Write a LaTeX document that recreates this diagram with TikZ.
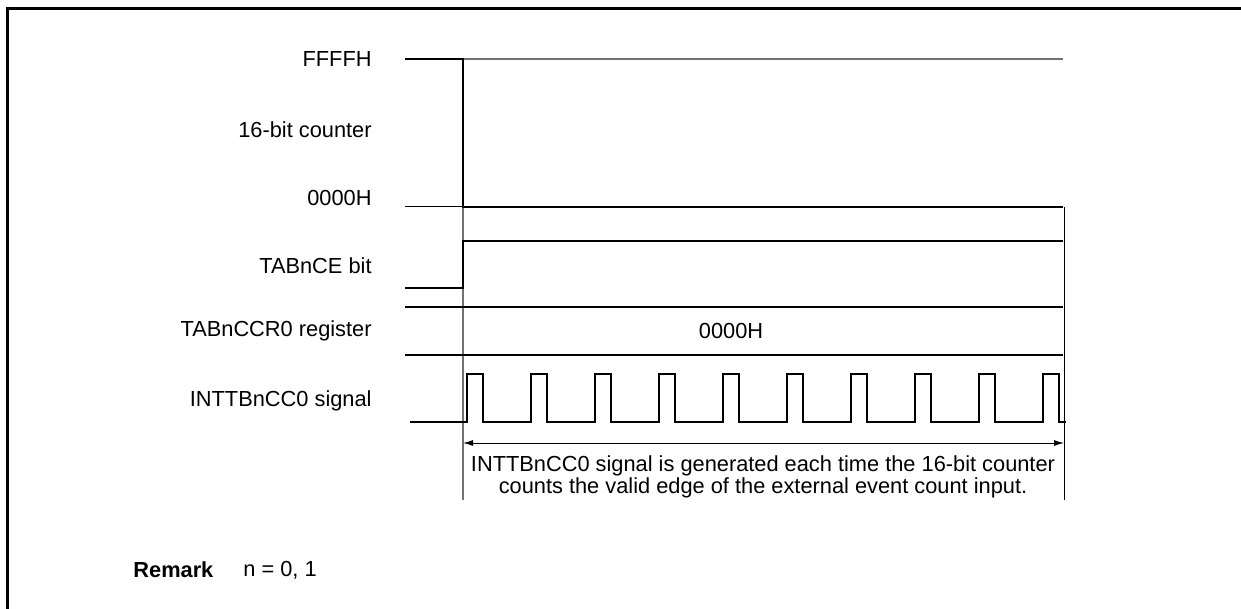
\documentclass[tikz,border=0pt]{standalone}
\usepackage{fontspec}
\setmainfont{Liberation Sans}
\usetikzlibrary{arrows.meta,positioning,calc}

\begin{document}
\begin{tikzpicture}[
  x=0.5pt, y=-0.5pt,
  wave/.style={draw=black, line width=1pt},
  thin/.style={draw=black, line width=0.5pt},
  guide/.style={draw=black!55, line width=0.55pt},
  siglabel/.style={anchor=east, inner sep=0pt, font=\fontsize{10.9}{11}\selectfont},
  note/.style={inner sep=0pt, align=center, font=\fontsize{10.9}{11}\selectfont},
]
  \useasboundingbox (0,0) rectangle (1241,609);

  % Open frame, top and left only.
  \draw[line width=1.4pt] (7.5,609) -- (7.5,8.5) -- (1241,8.5);

  % Signal names, right aligned.
  \node[siglabel] (ffff)  at (372,59)  {FFFFH};
  \node[siglabel] (cnt)   at (372,130) {16-bit counter};
  \node[siglabel] (zero)  at (372,198) {0000H};
  \node[siglabel] (ce)    at (372,266) {TABnCE bit};
  \node[siglabel] (ccr)   at (372,331) {TABnCCR0 register};
  \node[siglabel] (intcc) at (372,401) {INTTBnCC0 signal};

  % Start and end of counting.
  \coordinate (tstart) at (463,207);
  \coordinate (tend)   at (1064,207);
  \draw[guide] (tstart) -- (463,500);
  \draw[thin]  (tend) -- (1064,500);

  % 16-bit counter: cleared to 0000H and held there.
  \draw[guide] (463,59) -- (1063,59);
  \draw[thin]  (405,207) -- (tstart);
  \draw[wave]  (405,59) -- (463,59) -- (tstart) -- (1063,207);

  % TABnCE bit.
  \draw[wave] (405,288) -- (463,288) -- (463,241) -- (1063,241);

  % TABnCCR0 register.
  \draw[wave] (405,307) -- (1063,307);
  \draw[wave] (405,355) -- (1063,355);
  \node[note] (ccrval) at (731,331) {0000H};

  % INTTBnCC0 signal, one pulse per count.
  \draw[wave] (410,422) -- (467,422)
    \foreach \k in {0,...,9}
      { -- ({467+64*\k},422) -- ({467+64*\k},374) -- ({483+64*\k},374) -- ({483+64*\k},422) }
    -- (1066,422);

  % Span of the interrupt train.
  \coordinate (aleft)  at (463,443);
  \coordinate (aright) at (1064,443);
  \draw[thin, {Latex[length=5pt,width=3pt]}-{Latex[length=5pt,width=3pt]}] (aleft) -- (aright);
  \node[note] (expl) at (763,477)
    {INTTBnCC0 signal is generated each time the 16-bit counter\\
     counts the valid edge of the external event count input.};

  % Remark.
  \node[anchor=west, inner sep=0pt, font=\fontsize{10.9}{11}\selectfont\bfseries] (rem) at (133,570) {Remark};
  \node[anchor=west, inner sep=0pt, font=\fontsize{10.9}{11}\selectfont] (remn) at (243,570) {n = 0, 1};
\end{tikzpicture}
\end{document}
